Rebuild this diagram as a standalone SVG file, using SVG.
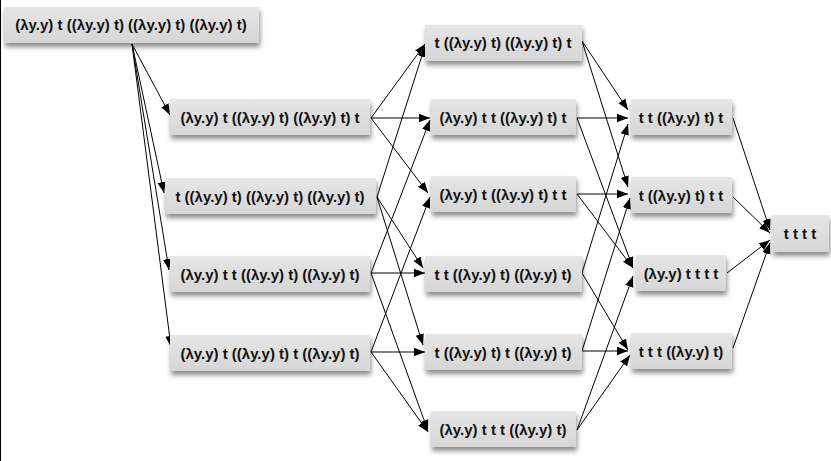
<svg xmlns="http://www.w3.org/2000/svg" width="831" height="461" viewBox="0 0 831 461">
<style>
.box{fill:url(#g);filter:url(#sh)}
.t{font-family:"Liberation Sans",Arial,sans-serif;font-weight:bold;font-size:15px;fill:#111;text-anchor:middle}
.e{stroke:#000;stroke-width:1;fill:none;marker-end:url(#ah)}
</style>
<defs>
<linearGradient id="g" x1="0" y1="0" x2="0" y2="1">
<stop offset="0" stop-color="#e6e6e6"/>
<stop offset="1" stop-color="#d6d6d6"/>
</linearGradient>
<filter id="sh" x="-10%" y="-20%" width="125%" height="160%">
<feDropShadow dx="1" dy="4" stdDeviation="2.5" flood-color="#000" flood-opacity="0.45"/>
</filter>
<marker id="ah" markerUnits="userSpaceOnUse" markerWidth="12" markerHeight="10" viewBox="0 0 12 10" refX="11" refY="5" orient="auto">
<path d="M0,0.8 L11,5 L0,9.2 Z" fill="#000"/>
</marker>
</defs>
<rect width="831" height="461" fill="#fff"/>
<line x1="0.5" y1="0" x2="0.5" y2="461" stroke="#000" stroke-width="1"/>

<g id="connectors">
<path class="e" d="M132,44 L170,115"/>
<path class="e" d="M132,44 L164,193"/>
<path class="e" d="M132,44 L169,270"/>
<path class="e" d="M132,44 L171,347"/>

<path class="e" d="M371,118 L425,44"/>
<path class="e" d="M371,118 L430,118"/>
<path class="e" d="M371,118 L428,193"/>
<path class="e" d="M377,197 L425,46"/>
<path class="e" d="M377,197 L423,268"/>
<path class="e" d="M377,197 L423,345"/>
<path class="e" d="M371,273 L430,120"/>
<path class="e" d="M371,273 L425,273"/>
<path class="e" d="M371,273 L428,431"/>
<path class="e" d="M371,352 L430,197"/>
<path class="e" d="M371,352 L425,352"/>
<path class="e" d="M371,352 L428,432"/>

<path class="e" d="M582,41 L628,110"/>
<path class="e" d="M582,41 L628,187"/>
<path class="e" d="M577,118 L628,118"/>
<path class="e" d="M577,118 L633,268"/>
<path class="e" d="M577,194 L628,194"/>
<path class="e" d="M577,194 L633,268"/>
<path class="e" d="M582,273 L628,124"/>
<path class="e" d="M582,273 L628,350"/>
<path class="e" d="M582,351 L628,351"/>
<path class="e" d="M582,351 L630,198"/>
<path class="e" d="M577,430 L633,276"/>
<path class="e" d="M577,430 L630,355"/>

<path class="e" d="M733,118 L770,230"/>
<path class="e" d="M733,197 L770,233"/>
<path class="e" d="M727,273 L770,240"/>
<path class="e" d="M733,348 L770,243"/>
</g>

<g id="A"><rect class="box" x="4" y="7" width="255" height="36"/><text class="t" x="131" y="30">(λy.y) t ((λy.y) t) ((λy.y) t) ((λy.y) t)</text></g>

<g id="B1"><rect class="box" x="170" y="99" width="200" height="36"/><text class="t" x="270" y="123">(λy.y) t ((λy.y) t) ((λy.y) t) t</text></g>
<g id="B2"><rect class="box" x="165" y="178" width="211" height="36"/><text class="t" x="270" y="202">t ((λy.y) t) ((λy.y) t) ((λy.y) t)</text></g>
<g id="B3"><rect class="box" x="170" y="256" width="200" height="36"/><text class="t" x="270" y="280">(λy.y) t t ((λy.y) t) ((λy.y) t)</text></g>
<g id="B4"><rect class="box" x="170" y="335" width="200" height="36"/><text class="t" x="270" y="359">(λy.y) t ((λy.y) t) t ((λy.y) t)</text></g>

<g id="C1"><rect class="box" x="425" y="25" width="157" height="36"/><text class="t" x="503" y="48">t ((λy.y) t) ((λy.y) t) t</text></g>
<g id="C2"><rect class="box" x="431" y="99" width="145" height="36"/><text class="t" x="503" y="123">(λy.y) t t ((λy.y) t) t</text></g>
<g id="C3"><rect class="box" x="431" y="176" width="145" height="36"/><text class="t" x="503" y="200">(λy.y) t ((λy.y) t) t t</text></g>
<g id="C4"><rect class="box" x="425" y="256" width="157" height="36"/><text class="t" x="503" y="280">t t ((λy.y) t) ((λy.y) t)</text></g>
<g id="C5"><rect class="box" x="425" y="334" width="157" height="36"/><text class="t" x="503" y="358">t ((λy.y) t) t ((λy.y) t)</text></g>
<g id="C6"><rect class="box" x="431" y="411" width="145" height="36"/><text class="t" x="503" y="435">(λy.y) t t t ((λy.y) t)</text></g>

<g id="D1"><rect class="box" x="631" y="99" width="101" height="36"/><text class="t" x="681" y="123">t t ((λy.y) t) t</text></g>
<g id="D2"><rect class="box" x="631" y="177" width="101" height="36"/><text class="t" x="681" y="201">t ((λy.y) t) t t</text></g>
<g id="D3"><rect class="box" x="636" y="255" width="90" height="36"/><text class="t" x="681" y="279">(λy.y) t t t t</text></g>
<g id="D4"><rect class="box" x="631" y="333" width="101" height="36"/><text class="t" x="681" y="357">t t t ((λy.y) t)</text></g>

<g id="E"><rect class="box" x="772" y="215" width="57" height="37"/><text class="t" x="800" y="239">t t t t</text></g>
</svg>
